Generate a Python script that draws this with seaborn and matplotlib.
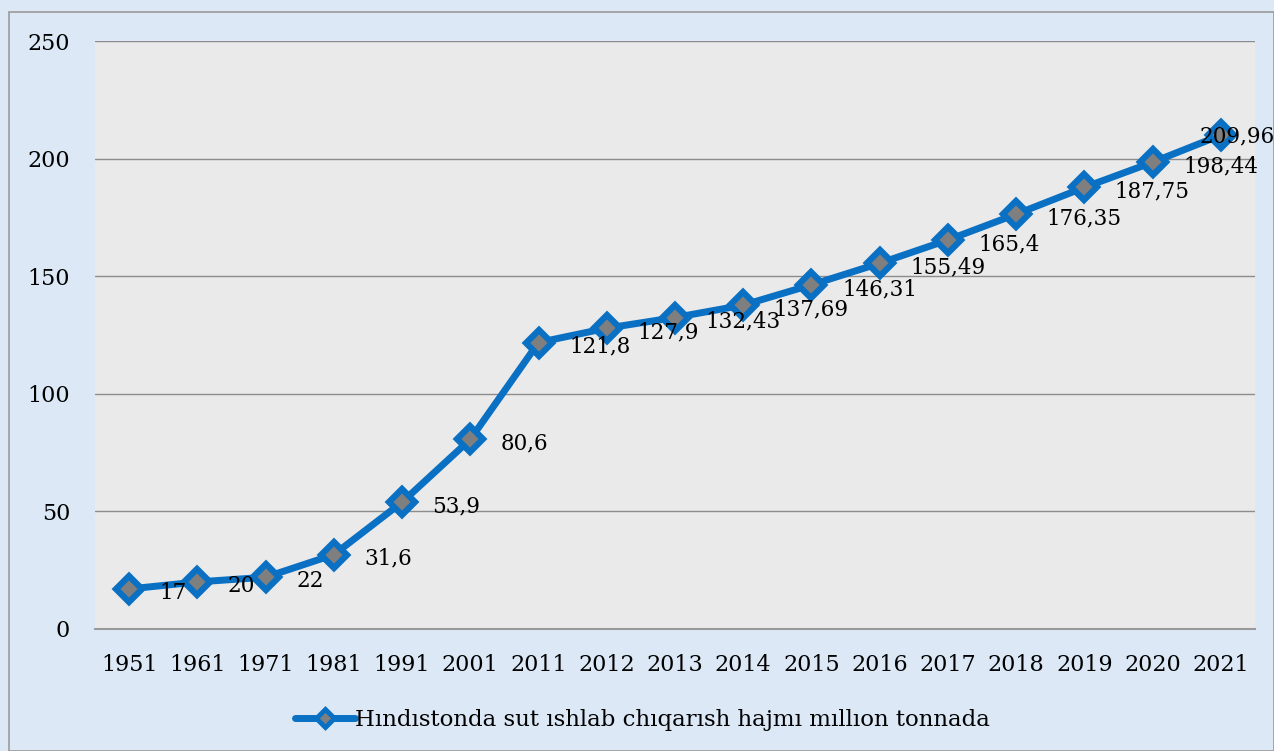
import matplotlib.pyplot as plt
import seaborn as sns
import pandas as pd
from matplotlib.patches import Rectangle

years = ['1951', '1961', '1971', '1981', '1991', '2001', '2011', '2012', '2013',
         '2014', '2015', '2016', '2017', '2018', '2019', '2020', '2021']
values = [17, 20, 22, 31.6, 53.9, 80.6, 121.8, 127.9, 132.43, 137.69, 146.31,
          155.49, 165.4, 176.35, 187.75, 198.44, 209.96]
labels = ['17', '20', '22', '31,6', '53,9', '80,6', '121,8', '127,9', '132,43',
          '137,69', '146,31', '155,49', '165,4', '176,35', '187,75', '198,44', '209,96']
series_name = 'Hındıstonda sut ıshlab chıqarısh hajmı mıllıon tonnada'

df = pd.DataFrame({'Year': years, 'Value': values})

sns.set_theme(style="white")
plt.rcParams['font.family'] = ['DejaVu Serif']

fig = plt.figure(figsize=(12.74, 7.51), dpi=100, facecolor='#dce8f6')
ax = fig.add_axes([0.0746, 0.1625, 0.9104, 0.7829])
ax.set_facecolor('#eaeaea')

# outer chart border
fig.patches.append(Rectangle((9 / 1274, 0.0), 1 - 9 / 1274, 1 - 12 / 751, transform=fig.transFigure,
                             fill=False, edgecolor='#9a9a9a', linewidth=1.2))

blue = '#0970c3'
sns.lineplot(data=df, x='Year', y='Value', ax=ax, color=blue, linewidth=5,
             marker='D', markersize=13, markerfacecolor='#7f7f7f',
             markeredgecolor=blue, markeredgewidth=4.5, sort=False,
             label=series_name, zorder=3)

for i, (v, t) in enumerate(zip(values, labels)):
    if i == len(values) - 1:
        # last label is pulled left so it stays inside the chart
        ax.annotate(t, (i, v), xytext=(39, -1), textcoords='offset points',
                    ha='right', va='center', fontsize=15.5, color='black', zorder=4)
    else:
        ax.annotate(t, (i, v), xytext=(22, -3), textcoords='offset points',
                    ha='left', va='center', fontsize=15.5, color='black', zorder=4)

ax.set_xlim(-0.5, len(years) - 0.5)
ax.set_ylim(0, 250)
ax.set_yticks([0, 50, 100, 150, 200, 250])
ax.yaxis.grid(True, color='#8c8c8c', linewidth=1)
ax.set_axisbelow(True)
ax.tick_params(axis='both', labelsize=16, length=0, colors='black')
ax.tick_params(axis='y', pad=18)
ax.tick_params(axis='x', pad=18)
ax.set_xlabel('')
ax.set_ylabel('')
for side in ['left', 'right', 'top']:
    ax.spines[side].set_visible(False)
ax.spines['bottom'].set_color('#9a9a9a')
ax.spines['bottom'].set_linewidth(1.5)

leg = ax.legend(loc='center', bbox_to_anchor=(0.472, -0.155), frameon=False,
                fontsize=16.5, handlelength=2.6, handletextpad=0.0,
                labelcolor='black')
for h in leg.legend_handles:
    h.set_markersize(9)
    h.set_markeredgewidth(3.5)

plt.savefig('out.png', dpi=100, facecolor=fig.get_facecolor())
